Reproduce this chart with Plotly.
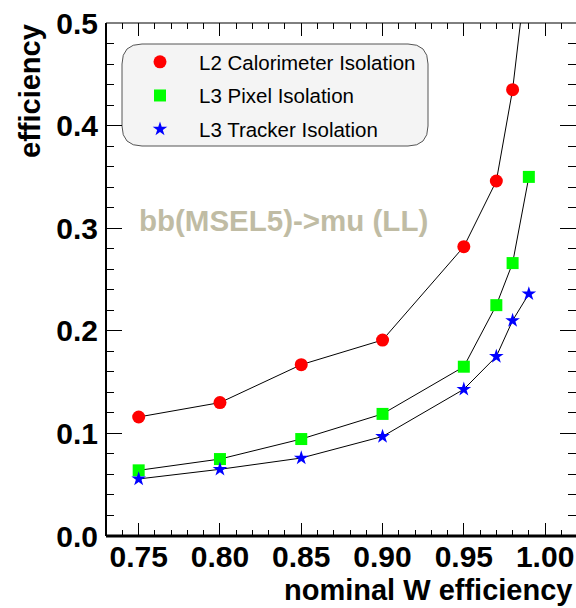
import plotly.graph_objects as go

# nominal W efficiency (x) and background efficiency for each isolation method
w_eff = [0.75, 0.80, 0.85, 0.90, 0.95, 0.97, 0.98, 0.99]
l2_calo = [0.116, 0.130, 0.167, 0.191, 0.282, 0.346, 0.435, 0.57]
l3_pixel = [0.064, 0.075, 0.0945, 0.119, 0.165, 0.225, 0.266, 0.350]
l3_tracker = [0.0556, 0.065, 0.076, 0.097, 0.143, 0.175, 0.210, 0.236]

series_names = ["L2 Calorimeter Isolation", "L3 Pixel Isolation", "L3 Tracker Isolation"]
x_ticks = [0.75, 0.80, 0.85, 0.90, 0.95, 1.00]
y_ticks = [0.0, 0.1, 0.2, 0.3, 0.4, 0.5]

W, H = 576, 608
ML, MR, MT, MB = 106, 0, 23, 72
PW, PH = W - ML - MR, H - MT - MB

FONT = "Liberation Sans, Arial, Helvetica, sans-serif"

fig = go.Figure()
styles = [
    dict(symbol="circle", color="#ff0000", size=13),
    dict(symbol="square", color="#00ff00", size=12),
    dict(symbol="star", color="#0000ff", size=11),
]
series = [l2_calo, l3_pixel, l3_tracker]

# connecting lines (not shown in the legend)
for ys in series:
    fig.add_trace(go.Scatter(
        x=w_eff, y=ys, mode="lines", showlegend=False, hoverinfo="skip",
        line=dict(color="black", width=1),
    ))
# markers, which also provide the legend entries
for i, (name, ys, st) in enumerate(zip(series_names, series, styles)):
    fig.add_trace(go.Scatter(
        x=w_eff, y=ys, name=name, mode="markers",
        marker=dict(symbol=st["symbol"], color=st["color"], size=st["size"], line=dict(width=0)),
        legendgroup=f"g{i}",
    ))


def px_to_paper(px, py):
    return (px - ML) / PW, (H - MB - py) / PH


# rounded legend box
bx0, by0 = px_to_paper(122, 146)
bx1, by1 = px_to_paper(428, 44)
rx, ry = 20 / PW, 20 / PH
path = (f"M {bx0+rx},{by0} L {bx1-rx},{by0} Q {bx1},{by0} {bx1},{by0+ry} "
        f"L {bx1},{by1-ry} Q {bx1},{by1} {bx1-rx},{by1} "
        f"L {bx0+rx},{by1} Q {bx0},{by1} {bx0},{by1-ry} "
        f"L {bx0},{by0+ry} Q {bx0},{by0} {bx0+rx},{by0} Z")

shapes = [
    dict(type="path", path=path, xref="paper", yref="paper",
         fillcolor="#f4f4f4", line=dict(color="#555555", width=1), layer="below"),
    # frame: thick left and bottom, thin top
    dict(type="line", xref="paper", yref="paper", x0=0, x1=0, y0=0, y1=1,
         line=dict(color="black", width=2)),
    dict(type="line", xref="paper", yref="paper", x0=0, x1=1, y0=0, y1=0,
         line=dict(color="black", width=3)),
    dict(type="line", xref="paper", yref="paper", x0=0, x1=1, y0=1, y1=1,
         line=dict(color="black", width=1)),
]

annotations = [
    dict(text="bb(MSEL5)->mu (LL)", xref="paper", yref="paper",
         x=px_to_paper(283.5, 0)[0], y=px_to_paper(0, 220)[1],
         showarrow=False, xanchor="center", yanchor="middle",
         font=dict(family=FONT, size=29.5, color="#c0bca4", weight="bold")),
    dict(text="efficiency", xref="paper", yref="paper",
         x=px_to_paper(30, 0)[0], y=px_to_paper(0, 22)[1], textangle=-90,
         showarrow=False, xanchor="center", yanchor="top",
         font=dict(family=FONT, size=29, color="black", weight="bold")),
    dict(text="nominal W efficiency", xref="paper", yref="paper",
         x=px_to_paper(574, 0)[0], y=px_to_paper(0, 590)[1],
         showarrow=False, xanchor="right", yanchor="middle",
         font=dict(family=FONT, size=29, color="black", weight="bold")),
]

fig.update_layout(
    width=W, height=H,
    margin=dict(l=ML, r=MR, t=MT, b=MB, pad=0),
    paper_bgcolor="white", plot_bgcolor="white",
    font=dict(family=FONT, color="black"),
    showlegend=True,
    legend=dict(x=px_to_paper(121, 0)[0], y=px_to_paper(0, 42)[1],
                xanchor="left", yanchor="top",
                bgcolor="rgba(0,0,0,0)", borderwidth=0,
                font=dict(family=FONT, size=20.5, color="black"),
                itemwidth=68, tracegroupgap=4),
    shapes=shapes,
    annotations=annotations,
)

fig.update_xaxes(
    range=[0.7299, 1.019], showgrid=False, zeroline=False, showline=False,
    tickvals=x_ticks, ticktext=[f"{v:.2f}" for v in x_ticks],
    ticks="inside", ticklen=13, tickwidth=1, tickcolor="black", mirror="ticks",
    minor=dict(dtick=0.01, tick0=0.75, ticks="inside", ticklen=6, tickwidth=1, tickcolor="black"),
    tickfont=dict(family=FONT, size=30, color="black", weight="bold"),
)
fig.update_yaxes(
    range=[0, 0.5], showgrid=False, zeroline=False, showline=False,
    tickvals=y_ticks, ticktext=[f"{v:.1f}" for v in y_ticks],
    ticks="inside", ticklen=16, tickwidth=1, tickcolor="black", mirror="ticks",
    minor=dict(dtick=0.02, tick0=0, ticks="inside", ticklen=8, tickwidth=1, tickcolor="black"),
    tickfont=dict(family=FONT, size=30, color="black", weight="bold"),
    ticklabelstandoff=7,
)

fig.write_html("out.html")
